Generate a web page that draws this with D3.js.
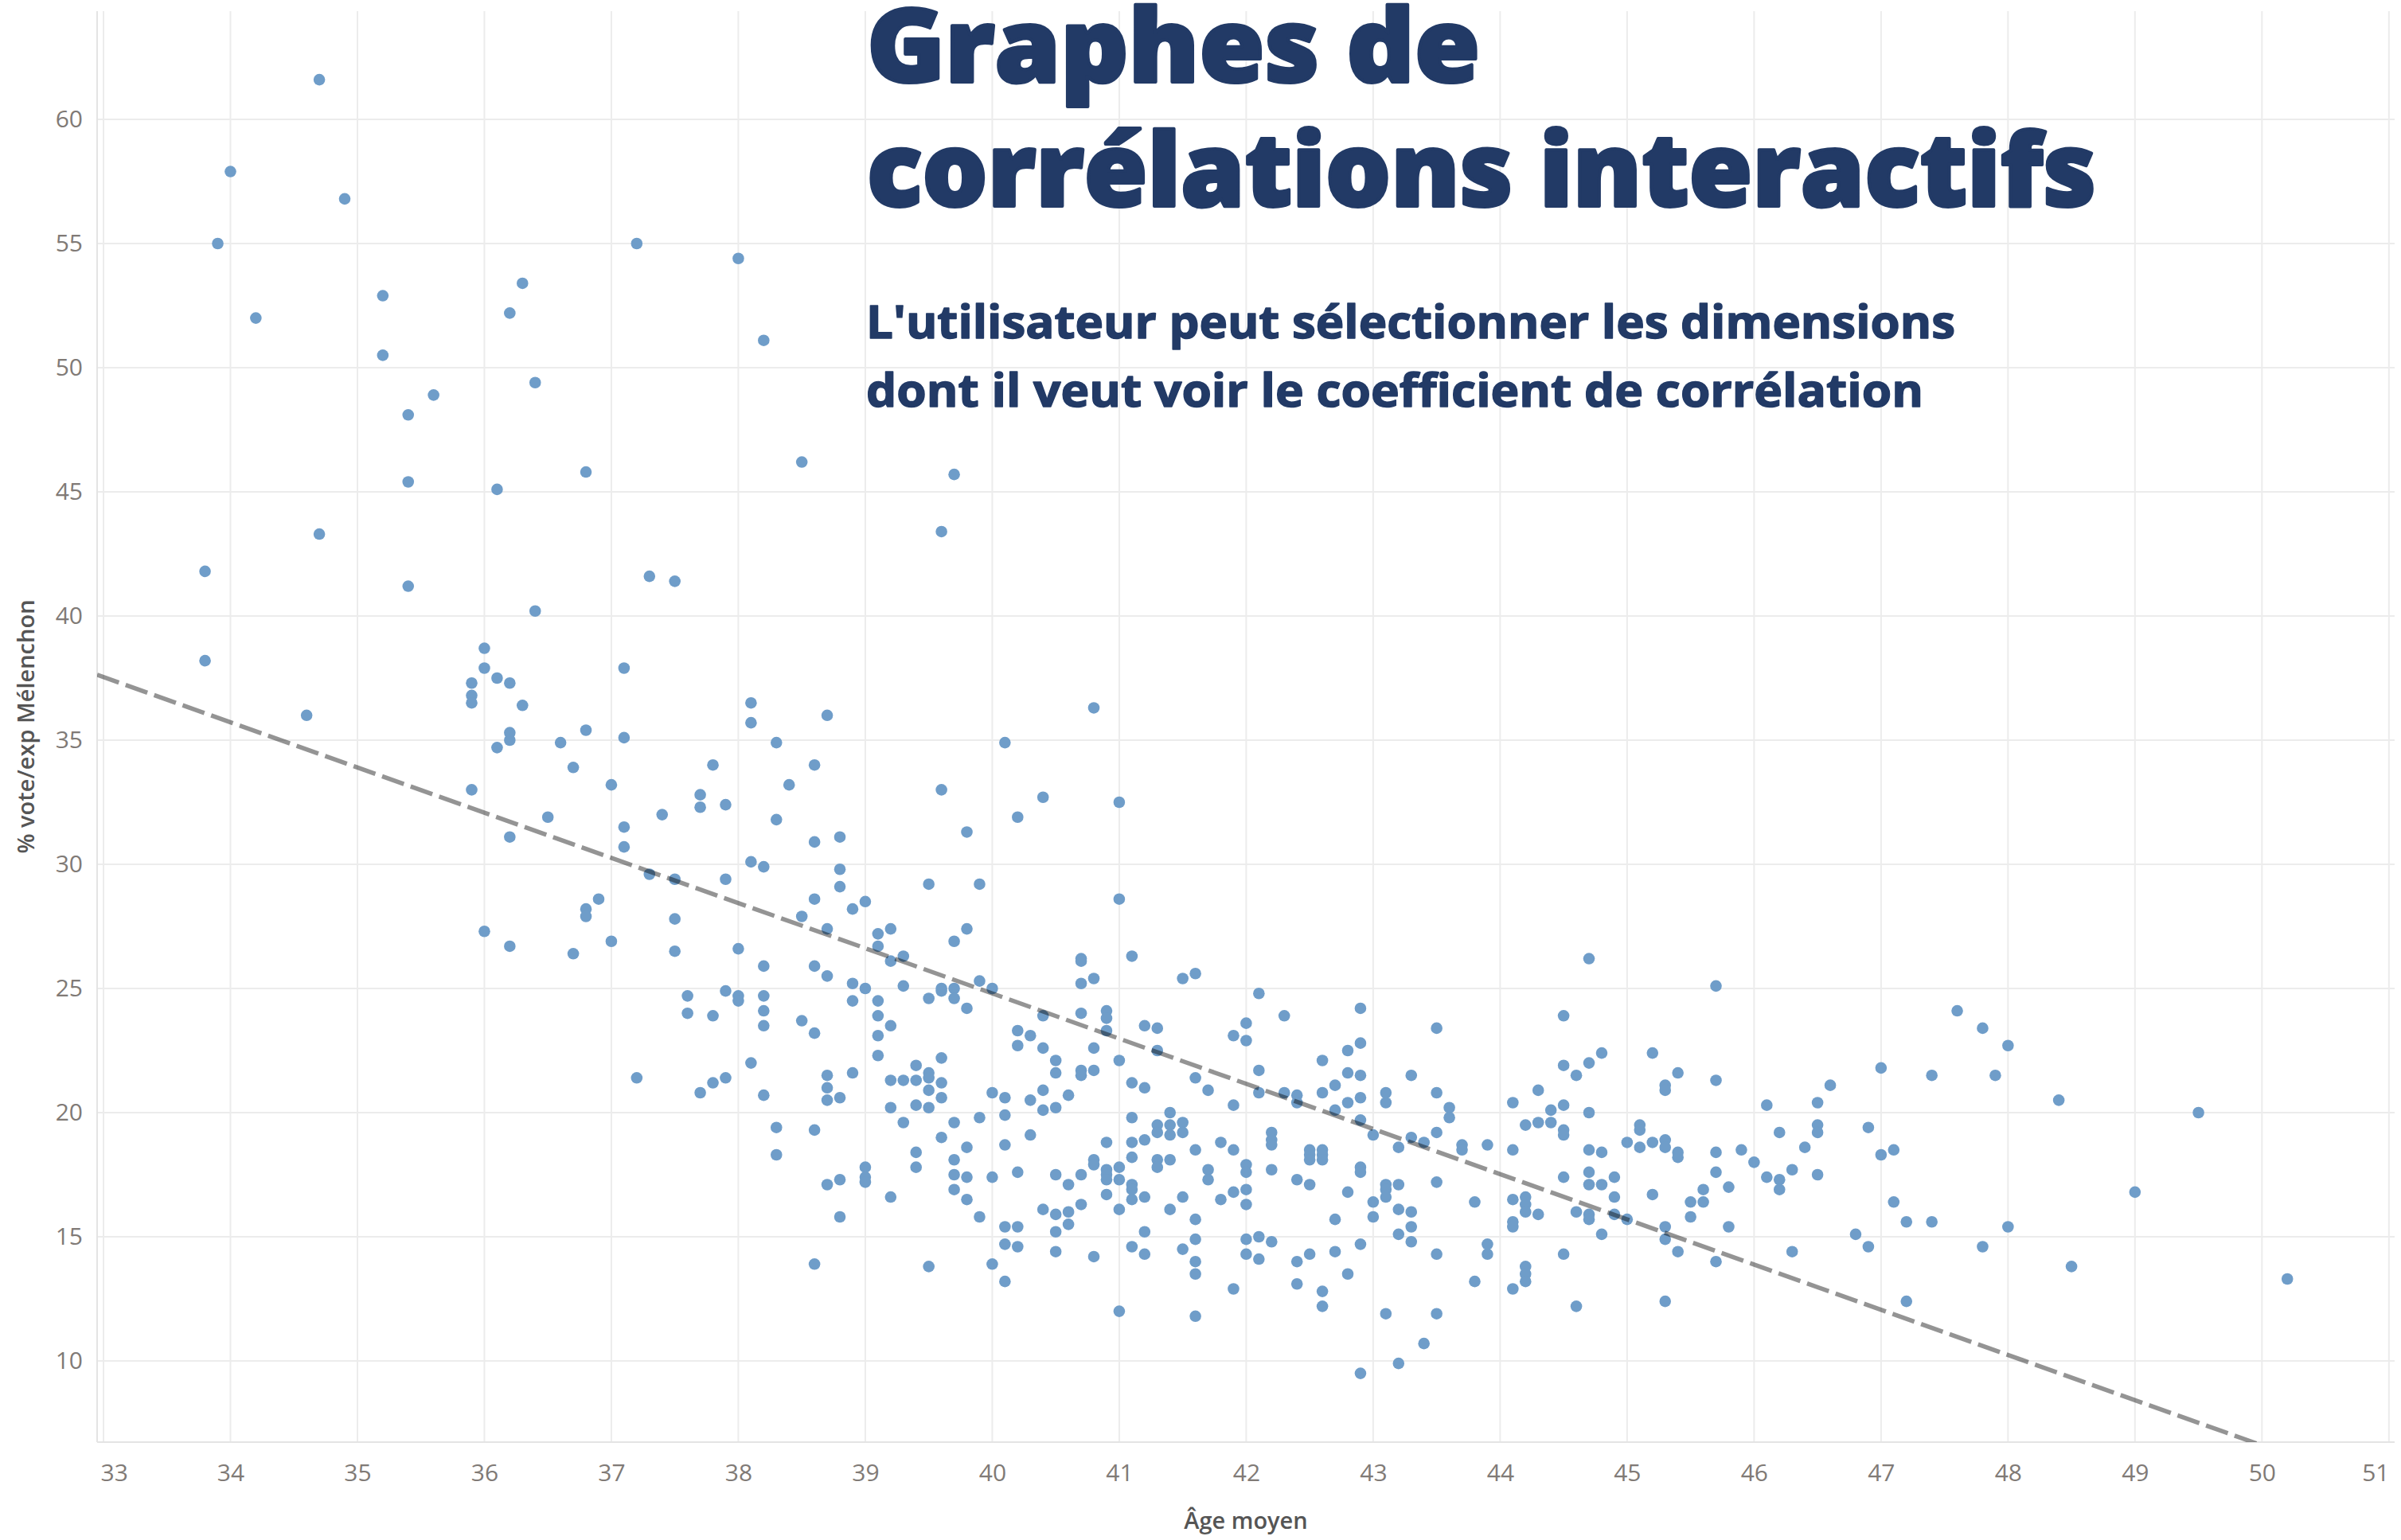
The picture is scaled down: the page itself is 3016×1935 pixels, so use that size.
<!DOCTYPE html>
<html>
<head>
<meta charset="utf-8">
<script src="https://cdn.jsdelivr.net/npm/d3@7"></script>
<style>
  body { margin: 0; background: #fff; }
  svg { display: block; }
</style>
</head>
<body>
<div id="chart"></div>
<script>
// canvas and plot area
var width = 3016,
    height = 1935,
    plot = {left: 122, right: 3008, top: 14, bottom: 1812};

// columns of the scatter (Âge moyen, rounded to 0.1)
var ages = [33.8, 33.9, 34.0, 34.2, 34.6, 34.7, 34.9, 35.2, 35.4, 35.6,
  35.9, 36.0, 36.1, 36.2, 36.3, 36.4, 36.5, 36.6, 36.7, 36.8, 36.9,
  37.0, 37.1, 37.2, 37.3, 37.4, 37.5, 37.6, 37.7, 37.8, 37.9,
  38.0, 38.1, 38.2, 38.3, 38.4, 38.5, 38.6, 38.7, 38.8, 38.9,
  39.0, 39.1, 39.2, 39.3, 39.4, 39.5, 39.6, 39.7, 39.8, 39.9,
  40.0, 40.1, 40.2, 40.3, 40.4, 40.5, 40.6, 40.7, 40.8, 40.9,
  41.0, 41.1, 41.2, 41.3, 41.4, 41.5, 41.6, 41.7, 41.8, 41.9,
  42.0, 42.1, 42.2, 42.3, 42.4, 42.5, 42.6, 42.7, 42.8, 42.9,
  43.0, 43.1, 43.2, 43.3, 43.4, 43.5, 43.6, 43.7, 43.8, 43.9,
  44.1, 44.2, 44.3, 44.4, 44.5, 44.6, 44.7, 44.8, 44.9,
  45.0, 45.1, 45.2, 45.3, 45.4, 45.5, 45.6, 45.7, 45.8, 45.9,
  46.0, 46.1, 46.2, 46.3, 46.4, 46.5, 46.6, 46.8, 46.9,
  47.0, 47.1, 47.2, 47.4, 47.6, 47.8, 47.9,
  48.0, 48.4, 48.5, 49.0, 49.5, 50.2];

// % vote/exp Mélenchon for each age column
var votes = [
  [41.8, 38.2], [55.0], [57.9], [52.0], [36.0], [61.6, 43.3], [56.8],
  [52.9, 50.5], [48.1, 45.4, 41.2], [48.9],
  [37.3, 36.8, 36.5, 33.0],
  [38.7, 37.9, 27.3],
  [45.1, 37.5, 34.7],
  [52.2, 37.3, 35.3, 35.0, 31.1, 26.7],
  [53.4, 36.4],
  [49.4, 40.2],
  [31.9],
  [34.9],
  [33.9, 26.4],
  [45.8, 35.4, 28.2, 27.9],
  [28.6],
  [33.2, 26.9],
  [37.9, 35.1, 31.5, 30.7],
  [55.0, 21.4],
  [41.6, 29.6],
  [32.0],
  [41.4, 29.4, 27.8, 26.5],
  [24.7, 24.0],
  [32.8, 32.3, 20.8],
  [34.0, 23.9, 21.2],
  [32.4, 29.4, 24.9, 21.4],
  [54.4, 26.6, 24.7, 24.5],
  [36.5, 35.7, 30.1, 22.0],
  [51.1, 29.9, 25.9, 24.7, 24.1, 23.5, 20.7],
  [34.9, 31.8, 19.4, 18.3],
  [33.2],
  [46.2, 27.9, 23.7],
  [34.0, 30.9, 28.6, 25.9, 23.2, 19.3, 13.9],
  [36.0, 27.4, 25.5, 21.5, 21.0, 20.5, 17.1],
  [31.1, 29.8, 29.1, 20.6, 17.3, 15.8],
  [28.2, 25.2, 24.5, 21.6],
  [28.5, 25.0, 17.8, 17.4, 17.2],
  [27.2, 26.7, 24.5, 23.9, 23.1, 22.3],
  [27.4, 26.1, 23.5, 21.3, 20.2, 16.6],
  [26.3, 25.1, 21.3, 19.6],
  [21.9, 21.3, 20.3, 18.4, 17.8],
  [29.2, 24.6, 21.6, 21.4, 20.9, 20.2, 13.8],
  [43.4, 33.0, 25.0, 24.9, 22.2, 21.2, 20.6, 19.0],
  [45.7, 26.9, 25.0, 24.6, 19.6, 18.1, 17.5, 16.9],
  [31.3, 27.4, 24.2, 18.6, 17.4, 16.5],
  [29.2, 25.3, 19.8, 15.8],
  [25.0, 20.8, 17.4, 13.9],
  [34.9, 20.6, 19.9, 18.7, 15.4, 14.7, 13.2],
  [31.9, 23.3, 22.7, 17.6, 15.4, 14.6],
  [23.1, 20.5, 19.1],
  [32.7, 23.9, 22.6, 20.9, 20.1, 16.1],
  [22.1, 21.6, 20.2, 17.5, 15.9, 15.2, 14.4],
  [20.7, 17.1, 16.0, 15.5],
  [26.2, 26.1, 25.2, 24.0, 21.7, 21.5, 17.5, 16.3],
  [36.3, 25.4, 22.6, 21.7, 18.1, 17.9, 14.2],
  [24.1, 23.8, 23.3, 18.8, 17.7, 17.5, 17.3, 16.7],
  [32.5, 28.6, 22.1, 17.8, 17.3, 16.1, 12.0],
  [26.3, 21.2, 19.8, 18.8, 18.2, 17.1, 16.9, 16.5, 14.6],
  [23.5, 21.0, 18.9, 16.6, 15.2, 14.3],
  [23.4, 22.5, 19.5, 19.2, 18.1, 17.8],
  [20.0, 19.5, 19.1, 18.1, 16.1],
  [25.4, 19.6, 19.2, 16.6, 14.5],
  [25.6, 21.4, 18.5, 15.7, 14.9, 14.0, 13.5, 11.8],
  [20.9, 17.7, 17.3],
  [18.8, 16.5],
  [23.1, 20.3, 18.5, 16.8, 12.9],
  [23.6, 22.9, 17.9, 17.6, 16.9, 16.3, 14.9, 14.3],
  [24.8, 21.7, 20.8, 15.0, 14.1],
  [19.2, 18.9, 18.7, 17.7, 14.8],
  [23.9, 20.8],
  [20.7, 20.4, 17.3, 14.0, 13.1],
  [18.5, 18.3, 18.1, 17.1, 14.3],
  [22.1, 20.8, 18.5, 18.3, 18.1, 12.8, 12.2],
  [21.1, 20.1, 15.7, 14.4],
  [22.5, 21.6, 20.4, 16.8, 13.5],
  [24.2, 22.8, 21.5, 20.6, 19.7, 17.8, 17.6, 14.7, 9.5],
  [19.1, 16.4, 15.8],
  [20.8, 20.4, 17.1, 16.9, 16.6, 11.9],
  [18.6, 17.1, 16.1, 15.1, 9.9],
  [21.5, 19.0, 16.0, 15.4, 14.8],
  [18.8, 10.7],
  [23.4, 20.8, 19.2, 17.2, 14.3, 11.9],
  [20.2, 19.8],
  [18.7, 18.5],
  [16.4, 13.2],
  [18.7, 14.7, 14.3],
  [20.4, 18.5, 16.5, 15.6, 15.4, 12.9],
  [19.5, 16.6, 16.3, 16.0, 13.8, 13.5, 13.2],
  [20.9, 19.6, 15.9],
  [20.1, 19.6],
  [23.9, 21.9, 20.3, 19.3, 19.1, 17.4, 14.3],
  [21.5, 16.0, 12.2],
  [26.2, 22.0, 20.0, 18.5, 17.6, 17.1, 15.9, 15.7],
  [22.4, 18.4, 17.1, 15.1],
  [17.4, 16.6, 15.9],
  [18.8, 15.7],
  [19.5, 19.3, 18.6],
  [22.4, 18.8, 16.7],
  [21.1, 20.9, 18.9, 18.6, 15.4, 14.9, 12.4],
  [21.6, 18.4, 18.2, 14.4],
  [16.4, 15.8],
  [16.9, 16.4],
  [25.1, 21.3, 18.4, 17.6, 14.0],
  [17.0, 15.4],
  [18.5],
  [18.0],
  [20.3, 17.4],
  [19.2, 17.3, 16.9],
  [17.7, 14.4],
  [18.6],
  [20.4, 19.5, 19.2, 17.5],
  [21.1],
  [15.1],
  [19.4, 14.6],
  [21.8, 18.3],
  [18.5, 16.4],
  [15.6, 12.4],
  [21.5, 15.6],
  [24.1],
  [23.4, 14.6],
  [21.5],
  [22.7, 15.4],
  [20.5],
  [13.8],
  [16.8],
  [20.0],
  [13.3]
];

// linear trend line
var trendSlope = -1.82,
    trendIntercept = 97.6;

// axis ticks
var xTicks = [33, 34, 35, 36, 37, 38, 39, 40, 41, 42, 43, 44, 45, 46, 47, 48, 49, 50, 51];
var yTicks = [10, 15, 20, 25, 30, 35, 40, 45, 50, 55, 60];

// texts
var xTitle = "Âge moyen";
var yTitle = "% vote/exp Mélenchon";
var titleLines = ["Graphes de", "corrélations interactifs"];
var subtitleLines = ["L'utilisateur peut sélectionner les dimensions",
  "dont il veut voir le coefficient de corrélation"];

// flat list of points
var points = [];
ages.forEach(function(a, i) {
  votes[i].forEach(function(v) { points.push({age: a, vote: v}); });
});

var xScale = d3.scaleLinear().domain([32.95, 51.045]).range([plot.left, plot.right]);
var yScale = d3.scaleLinear().domain([6.73, 64.36]).range([plot.bottom, plot.top]);

var svg = d3.select("#chart")
  .append("svg")
  .attr("width", width)
  .attr("height", height)
  .style("font-family", "'Open Sans', sans-serif");

svg.append("rect").attr("width", width).attr("height", height).attr("fill", "#fff");

// gridlines
var grid = svg.append("g").attr("stroke", "#ececec").attr("stroke-width", 2);
grid.selectAll("line.v")
  .data(xTicks)
  .enter()
  .append("line")
  .attr("x1", function(d) { return xScale(d); })
  .attr("x2", function(d) { return xScale(d); })
  .attr("y1", plot.top)
  .attr("y2", plot.bottom);
grid.selectAll("line.h")
  .data(yTicks)
  .enter()
  .append("line")
  .attr("x1", plot.left)
  .attr("x2", plot.right)
  .attr("y1", function(d) { return yScale(d); })
  .attr("y2", function(d) { return yScale(d); });

// pane border left and bottom
svg.append("line").attr("x1", plot.left).attr("x2", plot.left)
  .attr("y1", plot.top).attr("y2", plot.bottom)
  .attr("stroke", "#e4e4e4").attr("stroke-width", 2);
svg.append("line").attr("x1", plot.left).attr("x2", plot.right)
  .attr("y1", plot.bottom).attr("y2", plot.bottom)
  .attr("stroke", "#e4e4e4").attr("stroke-width", 2);

// titles (drawn over the grid, under the marks)
var titleG = svg.append("g").attr("fill", "#223a66").attr("stroke", "#223a66");
var titleY = [103, 259];
var titleLen = [770, 1544];
titleG.selectAll("text.title")
  .data(titleLines)
  .enter()
  .append("text")
  .attr("x", 1089)
  .attr("y", function(d, i) { return titleY[i]; })
  .attr("font-size", "128px")
  .attr("font-weight", 800)
  .attr("stroke-width", 4)
  .attr("stroke-linejoin", "round")
  .attr("textLength", function(d, i) { return titleLen[i]; })
  .attr("lengthAdjust", "spacingAndGlyphs")
  .text(function(d) { return d; });

var subY = [425, 511];
var subLen = [1368, 1328];
titleG.selectAll("text.sub")
  .data(subtitleLines)
  .enter()
  .append("text")
  .attr("x", 1088)
  .attr("y", function(d, i) { return subY[i]; })
  .attr("font-size", "58px")
  .attr("font-weight", 700)
  .attr("stroke-width", 1.5)
  .attr("stroke-linejoin", "round")
  .attr("textLength", function(d, i) { return subLen[i]; })
  .attr("lengthAdjust", "spacingAndGlyphs")
  .text(function(d) { return d; });

// points
svg.append("g")
  .selectAll("circle")
  .data(points)
  .enter()
  .append("circle")
  .attr("cx", function(d) { return xScale(d.age); })
  .attr("cy", function(d) { return yScale(d.vote); })
  .attr("r", 7.3)
  .attr("fill", "#6f9dc9");

// trend line, clipped to the pane
svg.append("clipPath").attr("id", "pane")
  .append("rect")
  .attr("x", plot.left).attr("y", plot.top)
  .attr("width", plot.right - plot.left)
  .attr("height", plot.bottom - plot.top);

var xd = xScale.domain();
svg.append("line")
  .attr("clip-path", "url(#pane)")
  .attr("x1", xScale(xd[0]))
  .attr("y1", yScale(trendIntercept + trendSlope * xd[0]))
  .attr("x2", xScale(xd[1]))
  .attr("y2", yScale(trendIntercept + trendSlope * xd[1]))
  .attr("stroke", "#000")
  .attr("stroke-opacity", 0.42)
  .attr("stroke-width", 5.5)
  .attr("stroke-dasharray", "29,9");

// axes
var xAxis = d3.axisBottom(xScale).tickValues(xTicks).tickSize(0).tickPadding(28);
var yAxis = d3.axisLeft(yScale).tickValues(yTicks).tickSize(0).tickPadding(18);

var gx = svg.append("g")
  .attr("transform", "translate(0," + plot.bottom + ")")
  .call(xAxis);
var gy = svg.append("g")
  .attr("transform", "translate(" + plot.left + ",0)")
  .call(yAxis);

[gx, gy].forEach(function(g) {
  g.select(".domain").remove();
  g.selectAll("text")
    .attr("fill", "#807a76")
    .style("font-size", "30px")
    .style("font-family", "'Open Sans', sans-serif");
});

// keep the end labels of the x axis inside the pane
gx.selectAll(".tick text").each(function(d) {
  var w = this.getComputedTextLength(),
      cx = xScale(d),
      lo = plot.left + 4,
      hi = plot.right - 7;
  if (cx - w / 2 < lo) d3.select(this).attr("x", lo - cx + w / 2);
  if (cx + w / 2 > hi) d3.select(this).attr("x", hi - cx - w / 2);
});

// axis titles
svg.append("text")
  .attr("x", (plot.left + plot.right) / 2)
  .attr("y", 1921)
  .attr("text-anchor", "middle")
  .attr("fill", "#555")
  .style("font-size", "29px")
  .style("font-weight", 600)
  .text(xTitle);

svg.append("text")
  .attr("transform", "translate(43," + ((plot.top + plot.bottom) / 2) + ") rotate(-90)")
  .attr("text-anchor", "middle")
  .attr("fill", "#555")
  .style("font-size", "29px")
  .style("font-weight", 600)
  .text(yTitle);
</script>
</body>
</html>
